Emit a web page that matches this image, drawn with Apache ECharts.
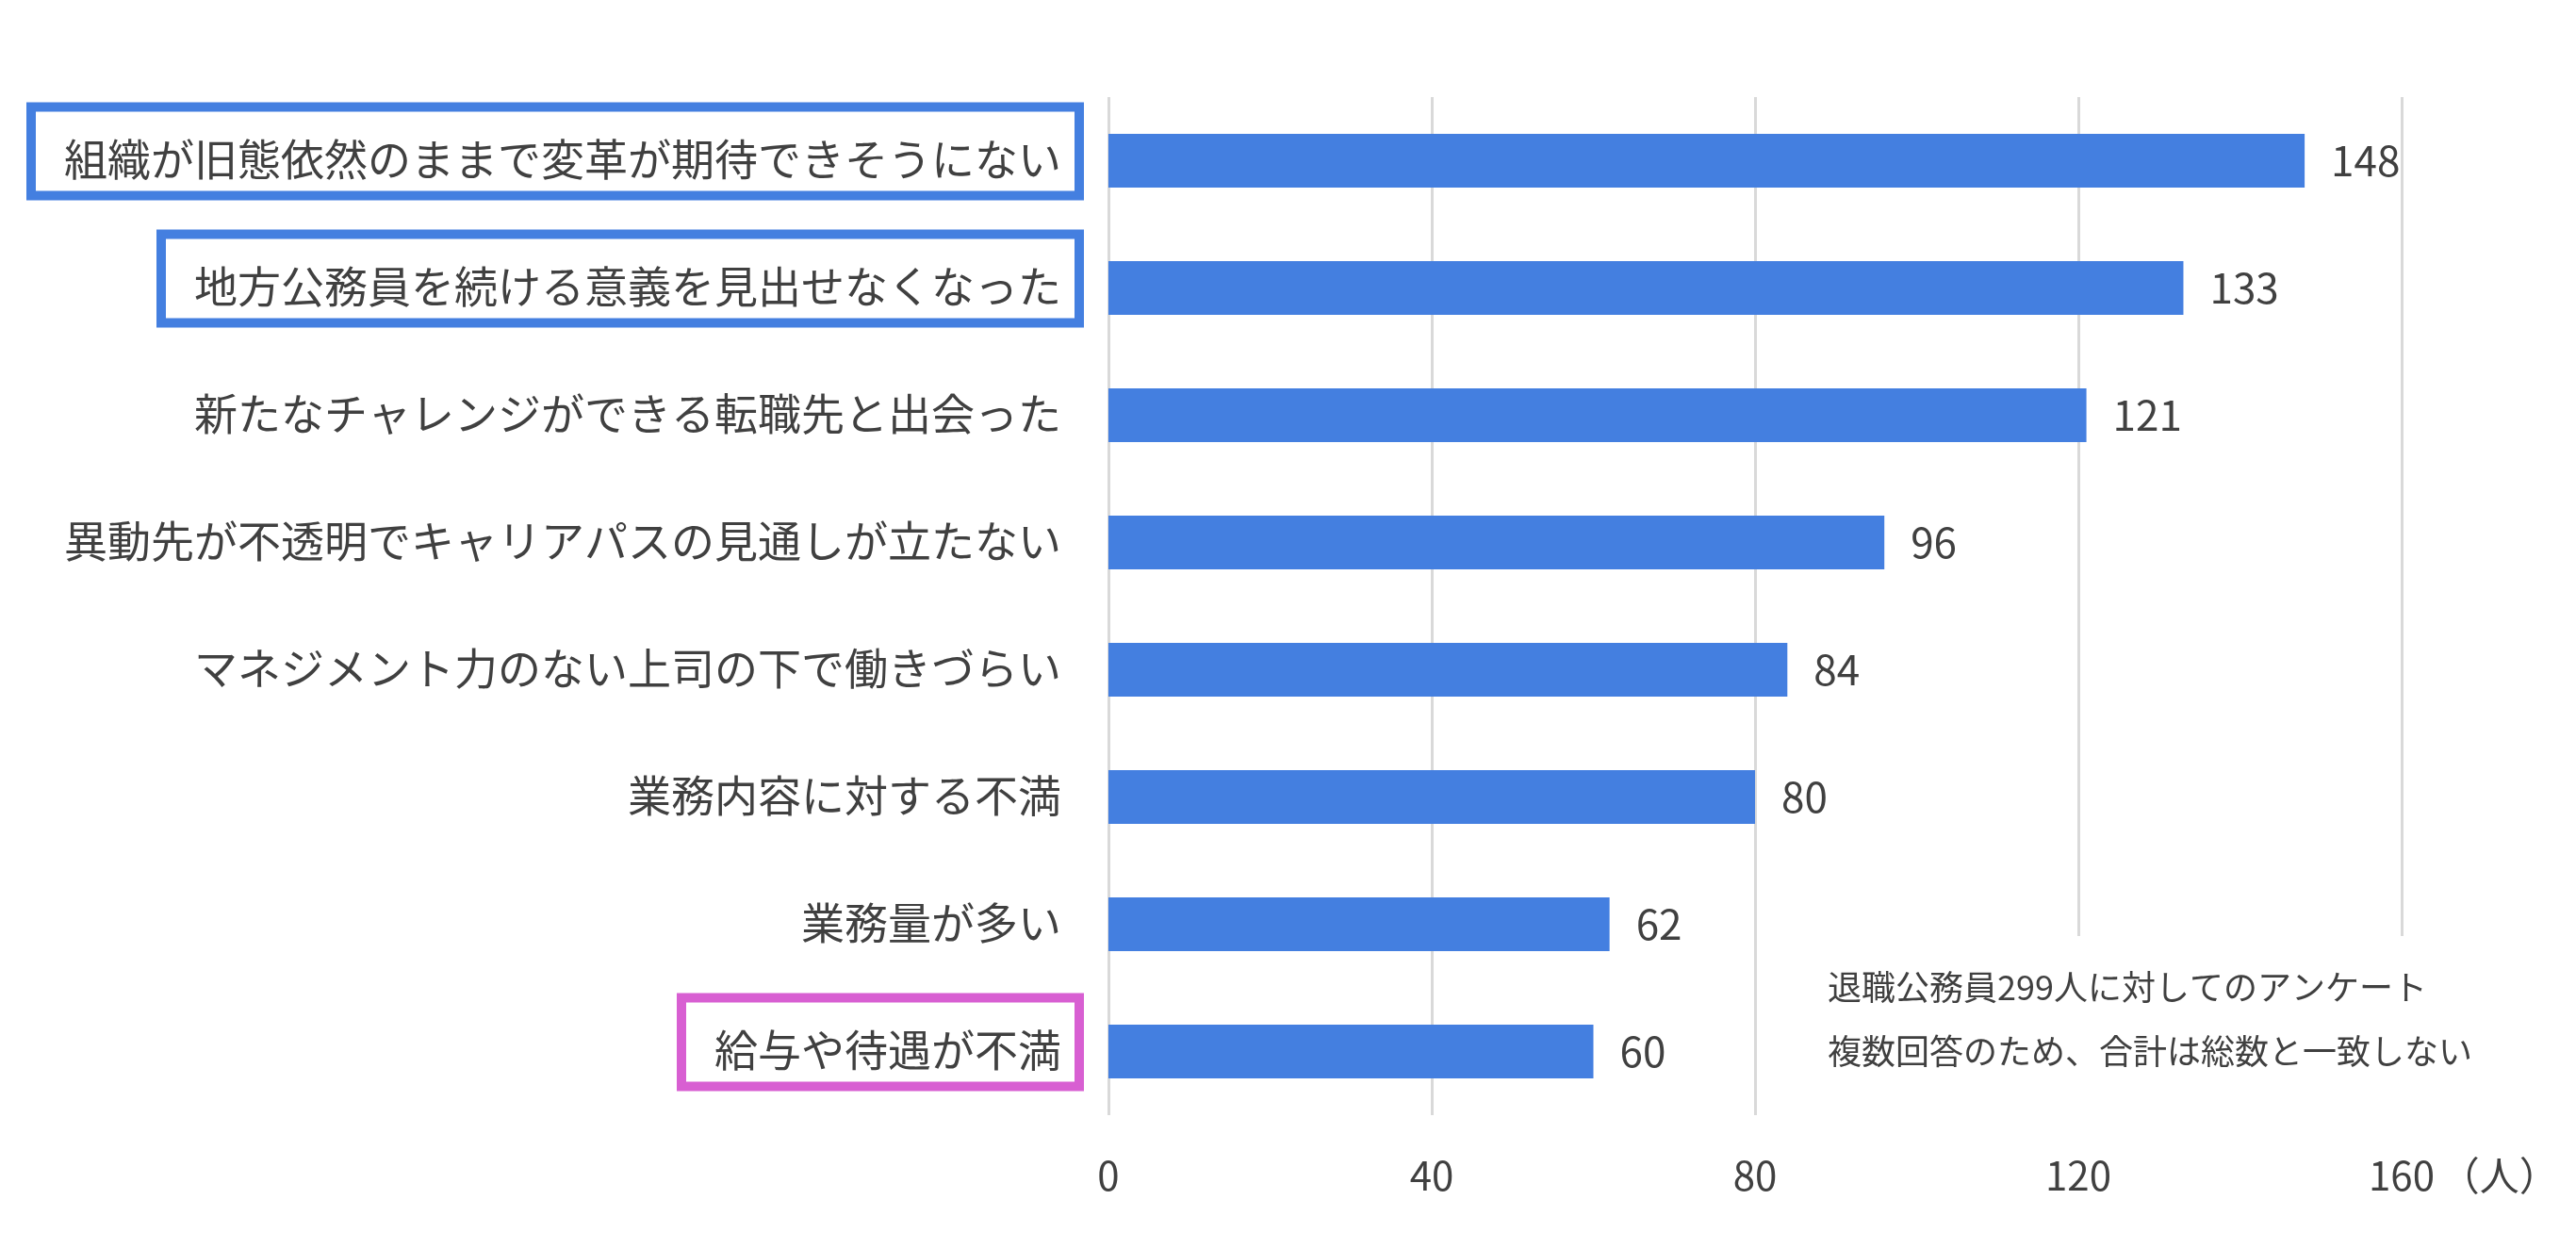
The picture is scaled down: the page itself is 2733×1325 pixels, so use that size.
<!DOCTYPE html>
<html lang="ja">
	<head>
		<meta charset="utf-8" />
		<title>退職理由アンケート</title>
		<style>
		html,body{margin:0;padding:0;background:#fff}
		#main{width:2733px;height:1325px}
		</style>
	</head>
	<body>
		<div id="main"></div>

		<script type="text/javascript" src="https://cdn.jsdelivr.net/npm/echarts@6/dist/echarts.min.js"></script>
		<script type="text/javascript">
			// 退職理由（上から順）
			var reasons = [
				'組織が旧態依然のままで変革が期待できそうにない',
				'地方公務員を続ける意義を見出せなくなった',
				'新たなチャレンジができる転職先と出会った',
				'異動先が不透明でキャリアパスの見通しが立たない',
				'マネジメント力のない上司の下で働きづらい',
				'業務内容に対する不満',
				'業務量が多い',
				'給与や待遇が不満'
			];
			// 人数
			var counts = [148, 133, 121, 96, 84, 80, 62, 60];
			// 枠で囲むラベル: blue / pink / plain
			var boxes = ['blue', 'blue', 'plain', 'plain', 'plain', 'plain', 'plain', 'pink'];
			var xTicks = [0, 40, 80, 120, 160];
			var noteLines = [
				'退職公務員299人に対してのアンケート',
				'複数回答のため、合計は総数と一致しない'
			];

			var textColor = '#404040';
			var font = 'Noto Sans CJK JP';

			function boxStyle(color) {
				return {
					fontFamily: font,
					fontSize: 46,
					lineHeight: 56,
					color: textColor,
					padding: [32, 19, 16, 35],
					borderColor: color,
					borderWidth: color ? 10 : 0
				};
			}

			var myChart = echarts.init(document.getElementById('main'));
			var option = {
				animation: false,
				textStyle: { fontFamily: font },
				title: {
					text: noteLines.join('\n'),
					left: 1880,
					top: 993,
					backgroundColor: '#fff',
					padding: [20, 40, 40, 59],
					textStyle: {
						fontFamily: font,
						fontSize: 36,
						lineHeight: 68,
						fontWeight: 'normal',
						color: textColor
					}
				},
				grid: { left: 1176, right: 185, top: 103, bottom: 142, containLabel: false },
				xAxis: {
					type: 'value',
					min: xTicks[0],
					max: xTicks[xTicks.length - 1],
					interval: xTicks[1] - xTicks[0],
					name: '（人）',
					nameLocation: 'end',
					nameGap: 37,
					nameTextStyle: {
						fontFamily: font,
						fontSize: 42,
						color: textColor,
						verticalAlign: 'top',
						padding: [43, 0, 0, 0]
					},
					axisLine: { show: false },
					axisTick: { show: false },
					axisLabel: { margin: 43, fontSize: 42, color: textColor, fontFamily: font },
					splitLine: { show: true, lineStyle: { color: '#d9d9d9', width: 3 } }
				},
				yAxis: {
					type: 'category',
					inverse: true,
					data: reasons,
					axisLine: { show: false },
					axisTick: { show: false },
					axisLabel: {
						margin: 31,
						padding: [0, 0, 20, 0],
						formatter: function (v, i) {
							return '{' + boxes[i] + '|' + v + '}';
						},
						rich: {
							blue: boxStyle('#447fe0'),
							pink: boxStyle('#d85fd2'),
							plain: boxStyle(null)
						}
					}
				},
				series: [{
					type: 'bar',
					data: counts,
					barWidth: 57,
					itemStyle: { color: '#447fe0' },
					label: {
						show: true,
						position: 'right',
						distance: 28,
						fontFamily: font,
						fontSize: 44,
						color: textColor
					}
				}]
			};
			myChart.setOption(option);
		</script>
	</body>
</html>
